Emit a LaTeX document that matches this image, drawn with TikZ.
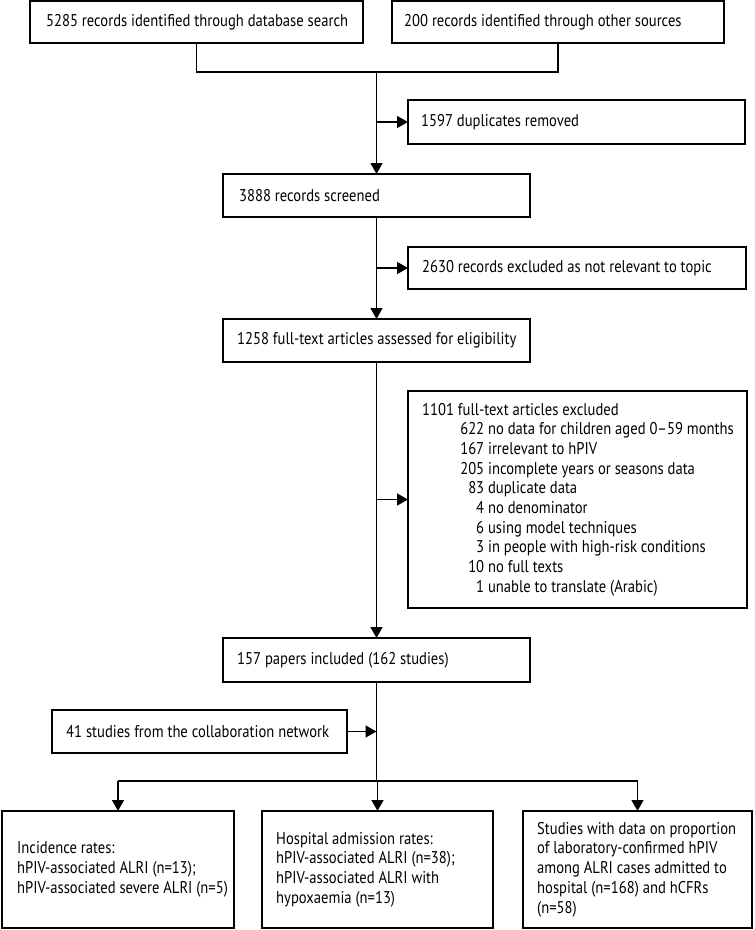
\documentclass[tikz,border=0pt]{standalone}
\usepackage{fontspec}
\setmainfont[FakeStretch=0.86]{PT Sans}
\usetikzlibrary{arrows.meta}
\newcommand{\fs}{\fontsize{17}{19.7}\selectfont}
\newcommand{\exl}[2]{\hspace*{62pt}\llap{#1} #2}
\tikzset{
  frame/.style={draw, line width=1.3pt, anchor=north west, inner sep=0pt, outer sep=0pt},
  txt/.style={align=left, font=\fs, inner sep=0pt, anchor=west},
  conn/.style={line width=1.3pt},
  arr/.style={conn, -{Triangle[length=11pt,width=12pt]}}
}
% name, x, y, w, h, inset, text
\newcommand{\bx}[7]{%
  \node[frame, minimum width=#4pt, minimum height=#5pt] (#1) at (#2,#3) {};
  \node[txt] (#1t) at ([xshift=#6pt]#1.west) {#7};}
\begin{document}
\begin{tikzpicture}[x=1pt,y=-1pt]
\useasboundingbox (0,0) rectangle (755,930);
\bx{A}{30}{1}{333}{42}{16}{5285 records identified through database search}
\bx{B}{392}{1}{332}{42}{12}{200 records identified through other sources}
\bx{dup}{408}{100}{337}{44}{13}{1597 duplicates removed}
\bx{s3888}{223}{174}{307}{43}{16}{3888 records screened}
\bx{ex2630}{408}{247}{338}{42}{14}{2630 records excluded as not relevant to topic}
\bx{ft1258}{223}{319}{307}{43}{14}{1258 full-text articles assessed for eligibility}
\bx{ex1101}{408}{391}{339}{217}{14}{1101 full-text articles excluded\\
\exl{622}{no data for children aged 0–59 months}\\
\exl{167}{irrelevant to hPIV}\\
\exl{205}{incomplete years or seasons data}\\
\exl{83}{duplicate data}\\
\exl{4}{no denominator}\\
\exl{6}{using model techniques}\\
\exl{3}{in people with high-risk conditions}\\
\exl{10}{no full texts}\\
\exl{1}{unable to translate (Arabic)}}
\bx{inc157}{223}{638}{307}{44}{14}{157 papers included (162 studies)}
\bx{net41}{52}{710}{295}{43}{14}{41 studies from the collaboration network}
\bx{bL}{2}{811}{232}{117}{15}{Incidence rates:\\ hPIV-associated ALRI (n=13);\\ hPIV-associated severe ALRI (n=5)}
\bx{bM}{262}{811}{231}{117}{14}{Hospital admission rates:\\ hPIV-associated ALRI (n=38);\\ hPIV-associated ALRI with\\ hypoxaemia (n=13)}
\bx{bR}{523}{811}{229}{117}{14}{Studies with data on proportion\\ of laboratory-confirmed hPIV\\ among ALRI cases admitted to\\ hospital (n=168) and hCFRs\\ (n=58)}
\coordinate (yJoin) at (0,72);
\coordinate (yBr) at (0,781);
\coordinate (J) at (s3888.north |- yJoin);
\draw[conn] (A.south) -- (A.south |- yJoin) -- (B.south |- yJoin) -- (B.south);
\draw[arr] (J) -- (s3888.north);
\draw[arr] (J |- dup.west) -- (dup.west);
\draw[arr] (s3888.south) -- (ft1258.north);
\draw[arr] (s3888.south |- ex2630.west) -- (ex2630.west);
\draw[arr] (ft1258.south) -- (inc157.north);
\draw[arr] (ft1258.south |- ex1101.west) -- (ex1101.west);
\draw[conn] (inc157.south) -- (inc157.south |- yBr);
\draw[arr] (net41.east) -- (net41.east -| inc157.south);
\draw[conn] (bL.north |- yBr) -- (bR.north |- yBr);
\draw[arr] (bL.north |- yBr) -- (bL.north);
\draw[arr] (bM.north |- yBr) -- (bM.north);
\draw[arr] (bR.north |- yBr) -- (bR.north);
\end{tikzpicture}
\end{document}
